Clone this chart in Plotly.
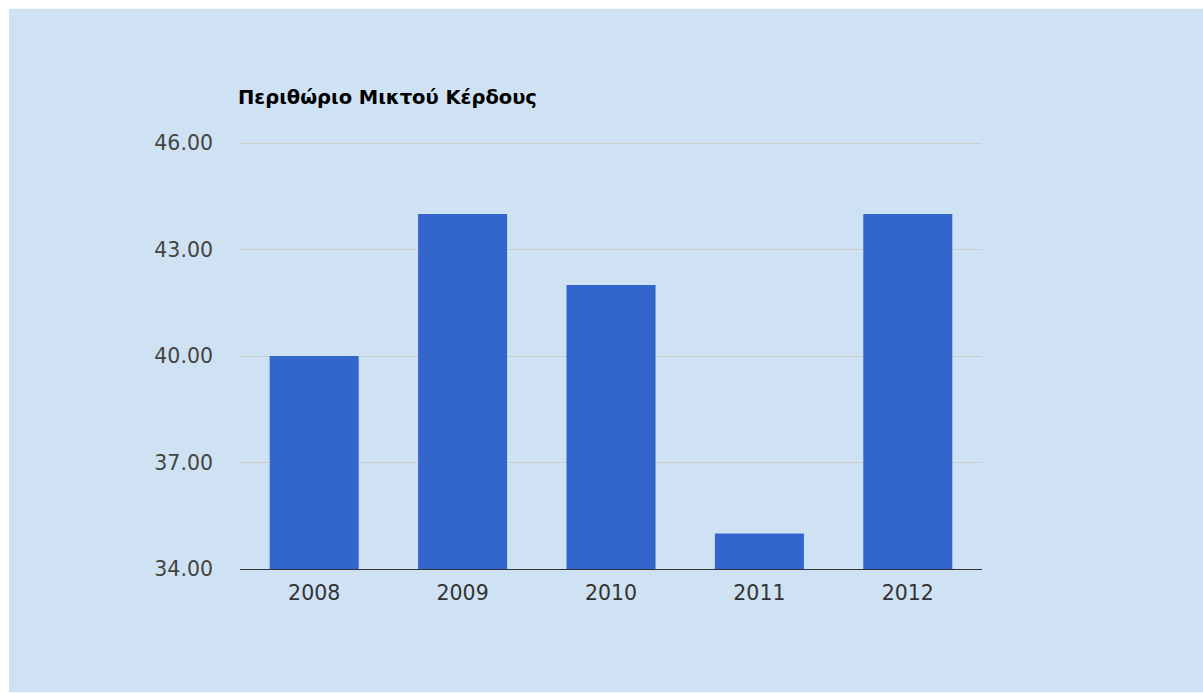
import plotly.graph_objects as go

years = ["2008", "2009", "2010", "2011", "2012"]
margin_values = [40, 44, 42, 35, 44]
tick_values = [34, 37, 40, 43, 46]
tick_labels = ["34.00", "37.00", "40.00", "43.00", "46.00"]
title_text = "Περιθώριο Μικτού Κέρδους"

W, H = 1203, 693
L, R, T, B = 240, 982, 143, 569
pw, ph = R - L, B - T

fig = go.Figure()
fig.add_trace(go.Bar(x=years, y=margin_values, marker=dict(color="#3366cc", line=dict(width=0)),
                     hoverinfo="x+y"))

# light blue panel with white border
fig.add_shape(type="rect", xref="paper", yref="paper", layer="below",
              x0=(9 - L) / pw, x1=(W + 5 - L) / pw,
              y0=(B - 692) / ph, y1=(B - 10) / ph,
              fillcolor="#cfe2f3", line=dict(width=0))

fig.update_layout(
    width=W, height=H,
    margin=dict(l=L, r=W - R, t=T - 1, b=H - B, pad=0),
    paper_bgcolor="white", plot_bgcolor="rgba(0,0,0,0)",
    bargap=0.4,
    showlegend=False,
    title=dict(text="<b>" + title_text + "</b>", x=238 / W, xref="container", xanchor="left",
               y=1 - 97 / H, yref="container", yanchor="middle",
               font=dict(family="DejaVu Sans, sans-serif", size=19.5, color="#000000")),
    xaxis=dict(showgrid=False, showline=True, linecolor="#333333", linewidth=1,
               ticks="", ticklabelstandoff=5,
               tickfont=dict(family="DejaVu Sans", size=20.5, color="#333333"),
               fixedrange=True),
    yaxis=dict(range=[34, 46.03], tickvals=tick_values, ticktext=tick_labels,
               showgrid=True, gridcolor="#cccccc", gridwidth=1, zeroline=False,
               showline=False, ticks="", ticklabelstandoff=26,
               tickfont=dict(family="DejaVu Sans", size=20.5, color="#444444"),
               fixedrange=True),
)

fig.write_html("out.html", config={"displayModeBar": False},
               post_script="document.body.style.margin='0';document.body.style.overflow='hidden';")
